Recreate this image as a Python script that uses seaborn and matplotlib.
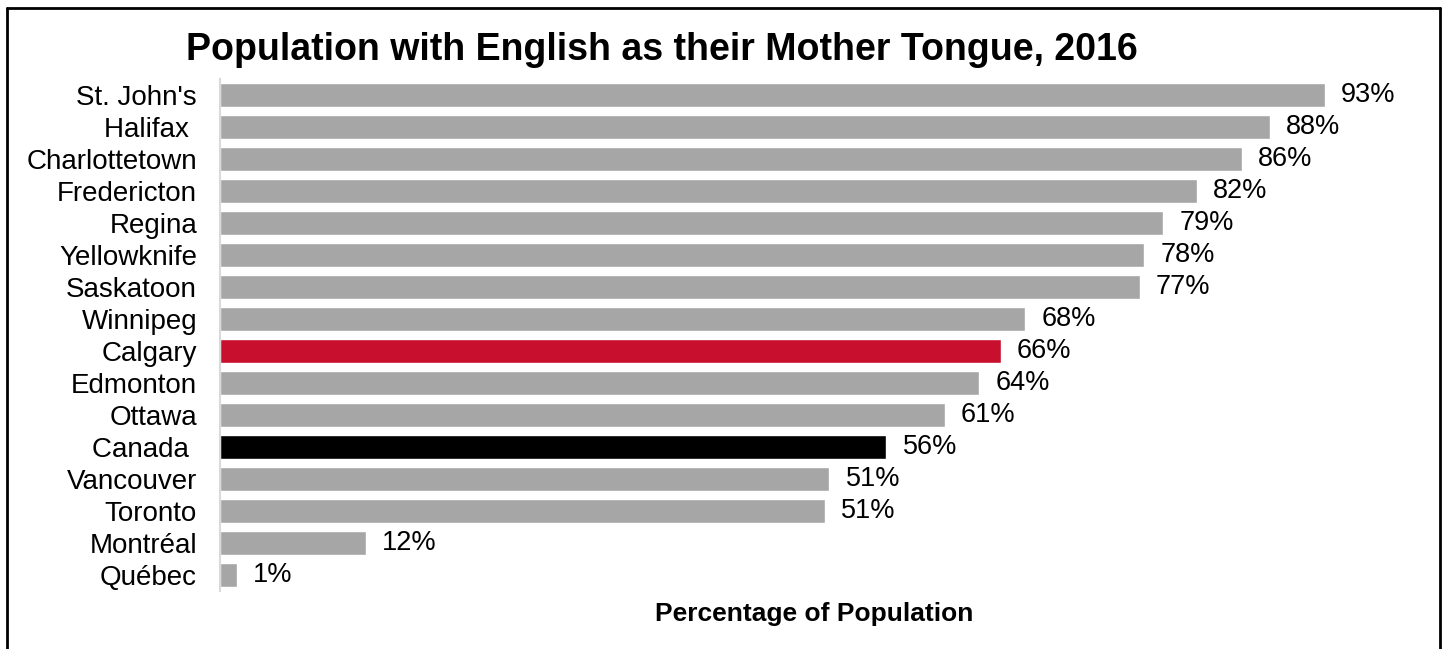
import matplotlib
matplotlib.use("Agg")
import matplotlib.pyplot as plt
import seaborn as sns
import pandas as pd
from matplotlib.lines import Line2D

cities = ["St. John's", "Halifax ", "Charlottetown", "Fredericton", "Regina",
          "Yellowknife", "Saskatoon", "Winnipeg", "Calgary", "Edmonton",
          "Ottawa", "Canada ", "Vancouver", "Toronto", "Montréal", "Québec"]
english_pct = [93.0, 88.4, 86.0, 82.2, 79.4, 77.8, 77.4, 67.8, 65.7, 63.9,
               61.0, 56.1, 51.3, 50.9, 12.3, 1.4]
bar_colors = ["#A6A6A6"] * 8 + ["#C8102E", "#A6A6A6", "#A6A6A6", "#000000"] + ["#A6A6A6"] * 4

sns.set_theme(style="white")
plt.rcParams["font.family"] = ["Liberation Sans", "DejaVu Sans"]
plt.rcParams["text.color"] = "#000000"
plt.rcParams["axes.labelcolor"] = "#000000"

df = pd.DataFrame({"city": cities, "pct": english_pct})

fig = plt.figure(figsize=(14.43, 6.49), dpi=100)
ax = fig.add_axes([220 / 1443, 1 - 591 / 649, (1408 - 220) / 1443, 512 / 649])

sns.barplot(data=df, y="city", x="pct", hue="city", palette=bar_colors,
            legend=False, width=0.72, saturation=1, ax=ax)

for i, v in enumerate(english_pct):
    ax.text(v + 1.35, i, f"{v:.0f}%", va="center", ha="left", fontsize=19.5, color="#000000")

ax.set_xlim(0, 100)
ax.set_ylim(15.5, -0.5)
ax.set_xticks([])
ax.set_ylabel("")
ax.set_xlabel("Percentage of Population", fontsize=19, fontweight="bold", labelpad=8)
ax.tick_params(axis="y", length=0, pad=16.5, labelsize=20, labelcolor="#000000")
for side in ["top", "right", "bottom"]:
    ax.spines[side].set_visible(False)
ax.spines["left"].set_color("#D9D9D9")
ax.spines["left"].set_linewidth(1.5)

fig.text(662 / 1443, 1 - 50 / 649, "Population with English as their Mother Tongue, 2016",
         ha="center", va="center", fontsize=27, fontweight="bold", color="#000000")

# frame around the chart (open at the bottom)
x0, x1, y1 = 6.5 / 1443, 1439.5 / 1443, 1 - 7.5 / 649
for xs, ys in [([x0, x0], [0, y1]), ([x1, x1], [0, y1]), ([x0, x1], [y1, y1])]:
    fig.add_artist(Line2D(xs, ys, color="#000000", linewidth=2, transform=fig.transFigure))

fig.savefig("out.png", dpi=100)
